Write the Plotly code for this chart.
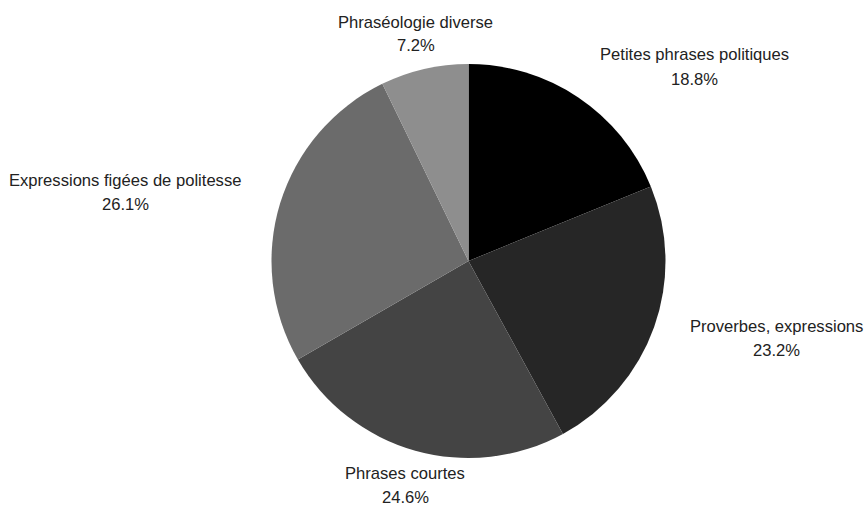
import plotly.graph_objects as go

categories = [
    "Petites phrases politiques",
    "Proverbes, expressions",
    "Phrases courtes",
    "Expressions figées de politesse",
    "Phraséologie diverse",
]
shares = [18.8, 23.2, 24.6, 26.1, 7.2]
pct_labels = ["18.8%", "23.2%", "24.6%", "26.1%", "7.2%"]

# styling / layout (not data)
colors = ["#000000", "#262626", "#444444", "#6b6b6b", "#8e8e8e"]
W, H = 864, 505
CX, CY, R = 468.5, 261, 197
# label anchor points (pixel centres of the name line)
label_px = [(694, 55), (776, 326), (405, 473), (125, 180), (415.5, 22)]
LINE_GAP = 24

fig = go.Figure(
    go.Pie(
        labels=categories,
        values=shares,
        sort=False,
        direction="clockwise",
        rotation=0,
        textinfo="none",
        hoverinfo="label+percent",
        marker=dict(colors=colors, line=dict(width=0)),
        domain=dict(
            x=[(CX - R) / W, (CX + R) / W],
            y=[1 - (CY + R) / H, 1 - (CY - R) / H],
        ),
        showlegend=False,
    )
)

font = dict(family="Liberation Sans, Arial, sans-serif", size=16.6, color="#222222")
annotations = []
for name, pct, (px, py) in zip(categories, pct_labels, label_px):
    annotations.append(dict(
        x=px / W, y=1 - py / H, xref="paper", yref="paper",
        text=name, showarrow=False, xanchor="center", yanchor="middle", font=font,
    ))
    annotations.append(dict(
        x=px / W, y=1 - (py + LINE_GAP) / H, xref="paper", yref="paper",
        text=pct, showarrow=False, xanchor="center", yanchor="middle", font=font,
    ))

fig.update_layout(
    width=W, height=H,
    margin=dict(l=0, r=0, t=0, b=0),
    paper_bgcolor="white",
    plot_bgcolor="white",
    annotations=annotations,
)

fig.write_html(
    "out.html",
    config={"displayModeBar": False},
    post_script="document.body.style.margin='0';document.body.style.overflow='hidden';",
)
